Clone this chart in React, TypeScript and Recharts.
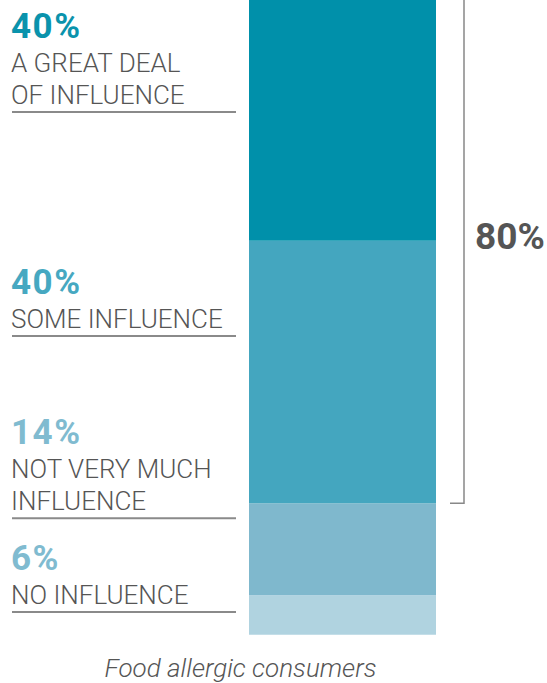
import React from "react";
import { BarChart, Bar, XAxis, YAxis, ReferenceArea, Customized } from "recharts";

// ---- data ----
const categories = ["Food allergic consumers"];
const greatDeal = [40];
const someInfluence = [40];
const notVeryMuch = [14];
const noInfluence = [6];
const bracketLabel = "80%";
const labelPercents = ["40%", "40%", "14%", "6%"];
const labelLines = [
  ["A GREAT DEAL", "OF INFLUENCE"],
  ["SOME INFLUENCE"],
  ["NOT VERY MUCH", "INFLUENCE"],
  ["NO INFLUENCE"],
];

// ---- layout / style (not data) ----
const TOP_SHIFT = 22;
const W = 547;
const H = 683 + TOP_SHIFT;
const underlineY = [112, 336, 518.3, 612].map((v) => v + TOP_SHIFT);
const barColors = { great: "#0090AA", some: "#44A6BF", notMuch: "#7FB8CD", none: "#B0D3E0" };
const pctColors = ["#0A93AC", "#46A8C1", "#80BBD0", "#80BBD0"];
const FONT = "Roboto, 'Noto Sans', sans-serif";

const data = categories.map((c, i) => ({
  name: c,
  none: noInfluence[i],
  notMuch: notVeryMuch[i],
  some: someInfluence[i],
  great: greatDeal[i],
}));

const LeftLabels = () => (
  <g>
    {labelLines.map((lines, gi) => {
      const u = underlineY[gi];
      const lastBase = u - 8.5;
      const firstBase = lastBase - 31.5 * (lines.length - 1);
      return (
        <g key={gi}>
          <text x={11} y={firstBase - 34} fill={pctColors[gi]} fontFamily={FONT} fontWeight={700} fontSize={35} letterSpacing={1.5}>
            {labelPercents[gi]}
          </text>
          {lines.map((ln, li) => (
            <text key={li} x={11} y={firstBase + li * 31.5} fill="#555" fontFamily={FONT} fontWeight={300} fontSize={26}>
              {ln}
            </text>
          ))}
          <line x1={12} x2={236} y1={u} y2={u} stroke="#8a8a8a" strokeWidth={2} />
        </g>
      );
    })}
  </g>
);

const Bracket = (props: any) => {
  const { x, y, width, height } = props;
  const lx = x + width + 28;
  const mid = y + height / 2;
  return (
    <g>
      <path d={`M${lx - 14},${y + height} H${lx} V${y}`} fill="none" stroke="#888" strokeWidth={1.5} />
      <text x={lx + 11} y={mid + 8} fill="#555" fontFamily={FONT} fontWeight={700} fontSize={37}>
        {bracketLabel}
      </text>
    </g>
  );
};

const CategoryTick = (props: any) => {
  const { x, y, payload } = props;
  return (
    <text x={x - 102} y={y + 34} textAnchor="middle" fill="#555" fontFamily={FONT} fontStyle="italic" fontWeight={300} fontSize={26}>
      {payload.value}
    </text>
  );
};

export default function App() {
  return (
    <div style={{ position: "absolute", left: 0, top: -TOP_SHIFT }}>
      <BarChart width={W} height={H} data={data} margin={{ top: 0, right: 111, left: 249, bottom: 8.3 }} barCategoryGap={0}>
        <XAxis dataKey="name" height={40} axisLine={false} tickLine={false} tick={<CategoryTick />} interval={0} />
        <YAxis hide domain={[0, 100]} />
        <Bar dataKey="none" stackId="a" fill={barColors.none} isAnimationActive={false} />
        <Bar dataKey="notMuch" stackId="a" fill={barColors.notMuch} isAnimationActive={false} />
        <Bar dataKey="some" stackId="a" fill={barColors.some} isAnimationActive={false} />
        <Bar dataKey="great" stackId="a" fill={barColors.great} isAnimationActive={false} />
        <ReferenceArea y1={noInfluence[0] + notVeryMuch[0]} y2={100} shape={<Bracket />} ifOverflow="visible" />
        <Customized component={<LeftLabels />} />
      </BarChart>
    </div>
  );
}
